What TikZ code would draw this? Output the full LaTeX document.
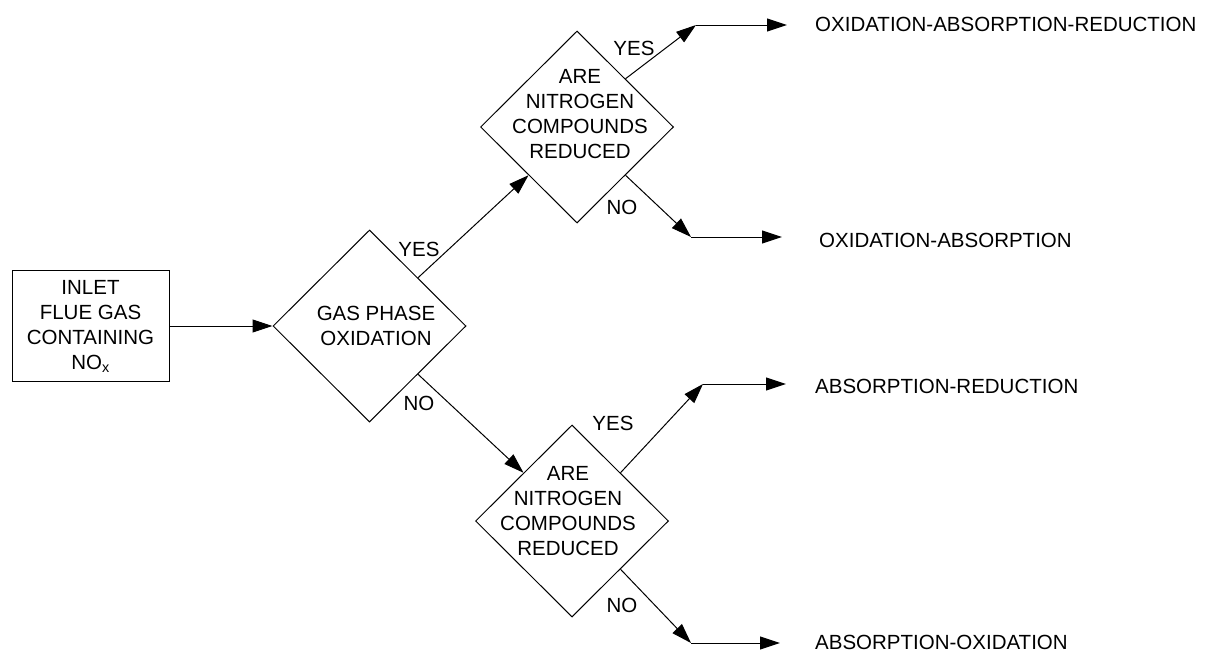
\documentclass[tikz,border=0pt]{standalone}
\usepackage{fontspec}
\setmainfont{Liberation Sans}
\usetikzlibrary{shapes.geometric,arrows.meta,calc}
\begin{document}
\begin{tikzpicture}[x=1pt,y=-1pt,
  every node/.style={font=\fontsize{20.5}{25}\selectfont},
  arr/.style={line width=1pt,-{Triangle[length=20pt,width=13pt]}},
  dia/.style={shape=diamond,draw,line width=1pt,minimum width=193pt,minimum height=192pt,inner sep=0pt},
  boxst/.style={draw,line width=1pt,minimum width=157pt,minimum height=111pt,inner sep=0pt,align=center},
  lab/.style={inner sep=0pt},
  outc/.style={inner sep=0pt,anchor=west}]
\useasboundingbox (0,0) rectangle (1208,653);
\node[boxst] (box) at (90.5,326) {INLET\\FLUE GAS\\CONTAINING\\NO\textsubscript{x}};
\node[dia] (d1) at (369.5,326) {};
\node[dia] (d2) at (577,127) {};
\node[dia] (d3) at (572,521) {};
\node[lab,align=center] (t1) at (376,326) {GAS PHASE\\OXIDATION};
\node[lab,align=center] (t2) at (580,114) {ARE\\NITROGEN\\COMPOUNDS\\REDUCED};
\node[lab,align=center] (t3) at (568,511) {ARE\\NITROGEN\\COMPOUNDS\\REDUCED};
\node[lab] (y1) at (419,249) {YES};
\node[lab] (n1) at (419,403) {NO};
\node[lab] (y2) at (634,48) {YES};
\node[lab] (n2) at (622,207) {NO};
\node[lab] (y3) at (613,423) {YES};
\node[lab] (n3) at (622,605) {NO};
\node[outc] (o1) at (815,24) {OXIDATION-ABSORPTION-REDUCTION};
\node[outc] (o2) at (819,240) {OXIDATION-ABSORPTION};
\node[outc] (o3) at (815,386) {ABSORPTION-REDUCTION};
\node[outc] (o4) at (815,642) {ABSORPTION-OXIDATION};
\coordinate (c1) at (696,25);
\coordinate (e1) at (787,25);
\coordinate (c2) at (691,237);
\coordinate (e2) at (782,237);
\coordinate (c3) at (703,384);
\coordinate (e3) at (786,384);
\coordinate (c4) at (691,643);
\coordinate (e4) at (780,643);
\draw[arr] (box.east) -- (d1.west);
\draw[arr] ($(d1.north)!0.5!(d1.east)$) -- ($(d2.south)!0.5!(d2.west)$);
\draw[arr] ($(d1.south)!0.5!(d1.east)$) -- ($(d3.north)!0.5!(d3.west)$);
\draw[arr] ($(d2.north)!0.5!(d2.east)$) -- (c1);
\draw[arr] (c1) -- (e1);
\draw[arr] ($(d2.south)!0.5!(d2.east)$) -- (c2);
\draw[arr] (c2) -- (e2);
\draw[arr] ($(d3.north)!0.5!(d3.east)$) -- (c3);
\draw[arr] (c3) -- (e3);
\draw[arr] ($(d3.south)!0.5!(d3.east)$) -- (c4);
\draw[arr] (c4) -- (e4);
\end{tikzpicture}
\end{document}
